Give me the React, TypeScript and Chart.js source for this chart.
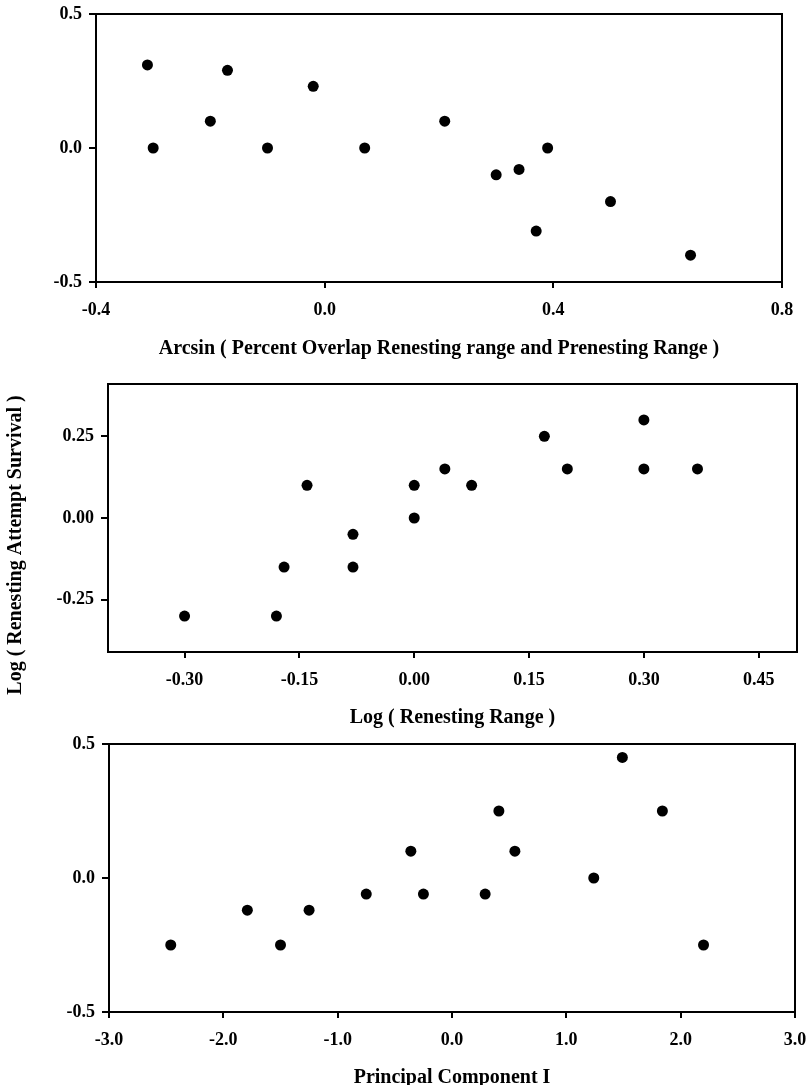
import React, { useEffect, useRef } from "react";
import { Chart, registerables } from "chart.js";

Chart.register(...registerables);

// Panel 1: Arcsin(percent overlap) vs log(renesting attempt survival)
const overlapX = [-0.31, -0.30, -0.20, -0.17, -0.10, -0.02, 0.07, 0.21, 0.30, 0.34, 0.37, 0.39, 0.50, 0.64];
const overlapY = [0.31, 0.0, 0.10, 0.29, 0.0, 0.23, 0.0, 0.10, -0.10, -0.08, -0.31, 0.0, -0.20, -0.40];
const overlapXTicks = [-0.4, 0.0, 0.4, 0.8];
const overlapYTicks = [-0.5, 0.0, 0.5];

// Panel 2: log(renesting range)
const rangeX = [-0.30, -0.18, -0.17, -0.14, -0.08, -0.08, 0.0, 0.0, 0.04, 0.075, 0.17, 0.20, 0.30, 0.30, 0.37];
const rangeY = [-0.30, -0.30, -0.15, 0.10, -0.05, -0.15, 0.10, 0.0, 0.15, 0.10, 0.25, 0.15, 0.30, 0.15, 0.15];
const rangeXTicks = [-0.30, -0.15, 0.0, 0.15, 0.30, 0.45];
const rangeYTicks = [-0.25, 0.0, 0.25];

// Panel 3: principal component I
const pcX = [-2.46, -1.79, -1.50, -1.25, -0.75, -0.36, -0.25, 0.29, 0.41, 0.55, 1.24, 1.49, 1.84, 2.20];
const pcY = [-0.25, -0.12, -0.25, -0.12, -0.06, 0.10, -0.06, -0.06, 0.25, 0.10, 0.0, 0.45, 0.25, -0.25];
const pcXTicks = [-3.0, -2.0, -1.0, 0.0, 1.0, 2.0, 3.0];
const pcYTicks = [-0.5, 0.0, 0.5];

const titleOverlap = "Arcsin ( Percent Overlap Renesting range and Prenesting Range )";
const titleRange = "Log ( Renesting Range )";
const titlePC = "Principal Component I";
const titleSurvival = "Log ( Renesting Attempt Survival )";

const FONT = "'Liberation Serif', 'Times New Roman', serif";

const framePlugin = {
  id: "frame",
  afterDraw(chart: any) {
    const { ctx, chartArea } = chart;
    ctx.save();
    ctx.strokeStyle = "#000";
    ctx.lineWidth = 2;
    ctx.strokeRect(chartArea.left, chartArea.top, chartArea.right - chartArea.left, chartArea.bottom - chartArea.top);
    ctx.restore();
  },
};

type PanelProps = {
  top: number;
  height: number;
  xs: number[];
  ys: number[];
  xTicks: number[];
  yTicks: number[];
  xMin: number;
  xMax: number;
  yMin: number;
  yMax: number;
  xDec: number;
  yDec: number;
  xTitle: string;
  xTitlePad: number;
  yTitle?: string;
  yTitleX?: number;
  yTitleY?: number;
  areaTop: number;
  areaLeft: number;
  areaRight: number;
  areaBottom: number;
};

function Panel(p: PanelProps) {
  const ref = useRef<HTMLCanvasElement | null>(null);
  useEffect(() => {
    if (!ref.current) return;
    const pts = p.xs.map((x, i) => ({ x, y: p.ys[i] }));
    const sideTitle = {
      id: "sideTitle",
      afterDraw(chart: any) {
        if (!p.yTitle) return;
        const { ctx } = chart;
        ctx.save();
        ctx.translate(p.yTitleX || 0, p.yTitleY || 0);
        ctx.rotate(-Math.PI / 2);
        ctx.fillStyle = "#000";
        ctx.font = `bold 20px ${FONT}`;
        ctx.textAlign = "center";
        ctx.textBaseline = "middle";
        ctx.fillText(p.yTitle, 0, 0);
        ctx.restore();
      },
    };
    const chart = new Chart(ref.current, {
      type: "scatter",
      data: {
        datasets: [
          {
            data: pts,
            backgroundColor: "#000",
            borderColor: "#000",
            borderWidth: 0,
            pointRadius: 5.5,
          },
        ],
      },
      plugins: [framePlugin, sideTitle],
      options: {
        animation: false,
        responsive: false,
        devicePixelRatio: 1,
        layout: {
          padding: { top: p.areaTop, left: 0, right: 807 - p.areaRight, bottom: 0 },
        },
        plugins: { legend: { display: false }, tooltip: { enabled: false } },
        scales: {
          x: {
            type: "linear",
            min: p.xMin,
            max: p.xMax,
            afterBuildTicks: (s: any) => {
              s.ticks = p.xTicks.map((v) => ({ value: v }));
            },
            afterFit: (s: any) => {
              s.height = p.height - p.areaBottom;
              s.paddingLeft = 0;
              s.paddingRight = 0;
            },
            grid: {
              display: true,
              drawOnChartArea: false,
              drawTicks: true,
              tickLength: 6,
              color: "#000",
              tickColor: "#000",
              lineWidth: 2,
              tickWidth: 2,
            },
            border: { display: true, color: "#000", width: 2 },
            ticks: {
              color: "#000",
              padding: 12,
              maxRotation: 0,
              autoSkip: false,
              font: { family: FONT, size: 18, weight: "bold" },
              callback: (v: any) => Number(v).toFixed(p.xDec),
            },
            title: {
              display: true,
              text: p.xTitle,
              color: "#000",
              font: { family: FONT, size: 20, weight: "bold", lineHeight: 1 },
              padding: { top: 0, bottom: p.xTitlePad },
            },
          },
          y: {
            type: "linear",
            min: p.yMin,
            max: p.yMax,
            afterBuildTicks: (s: any) => {
              s.ticks = p.yTicks.map((v) => ({ value: v }));
            },
            afterFit: (s: any) => {
              s.width = p.areaLeft;
              s.paddingTop = 0;
              s.paddingBottom = 0;
            },
            grid: {
              display: true,
              drawOnChartArea: false,
              drawTicks: true,
              tickLength: 7,
              color: "#000",
              tickColor: "#000",
              lineWidth: 2,
              tickWidth: 2,
            },
            border: { display: true, color: "#000", width: 2 },
            ticks: {
              color: "#000",
              padding: 7,
              autoSkip: false,
              font: { family: FONT, size: 18, weight: "bold" },
              callback: (v: any) => Number(v).toFixed(p.yDec),
            },
            title: { display: false },
          },
        },
      },
    });
    return () => chart.destroy();
  }, []);
  return (
    <canvas
      ref={ref}
      width={807}
      height={p.height}
      style={{ position: "absolute", left: 0, top: p.top, width: 807, height: p.height }}
    />
  );
}

export default function App() {
  return (
    <div style={{ position: "absolute", left: 0, top: 0, width: 807, height: 1085, background: "#fff", overflow: "hidden" }}>
      <Panel
        top={0}
        height={362}
        xs={overlapX}
        ys={overlapY}
        xTicks={overlapXTicks}
        yTicks={overlapYTicks}
        xMin={-0.4}
        xMax={0.8}
        yMin={-0.5}
        yMax={0.5}
        xDec={1}
        yDec={1}
        xTitle={titleOverlap}
        xTitlePad={3}
        areaTop={14}
        areaLeft={96}
        areaRight={782}
        areaBottom={282}
      />
      <Panel
        top={362}
        height={368}
        xs={rangeX}
        ys={rangeY}
        xTicks={rangeXTicks}
        yTicks={rangeYTicks}
        xMin={-0.4}
        xMax={0.5}
        yMin={-0.41}
        yMax={0.41}
        xDec={2}
        yDec={2}
        xTitle={titleRange}
        xTitlePad={2}
        yTitle={titleSurvival}
        yTitleX={16}
        yTitleY={183}
        areaTop={22}
        areaLeft={108}
        areaRight={797}
        areaBottom={290}
      />
      <Panel
        top={730}
        height={355}
        xs={pcX}
        ys={pcY}
        xTicks={pcXTicks}
        yTicks={pcYTicks}
        xMin={-3}
        xMax={3}
        yMin={-0.5}
        yMax={0.5}
        xDec={1}
        yDec={1}
        xTitle={titlePC}
        xTitlePad={-3}
        areaTop={14}
        areaLeft={109}
        areaRight={795}
        areaBottom={282}
      />
    </div>
  );
}
